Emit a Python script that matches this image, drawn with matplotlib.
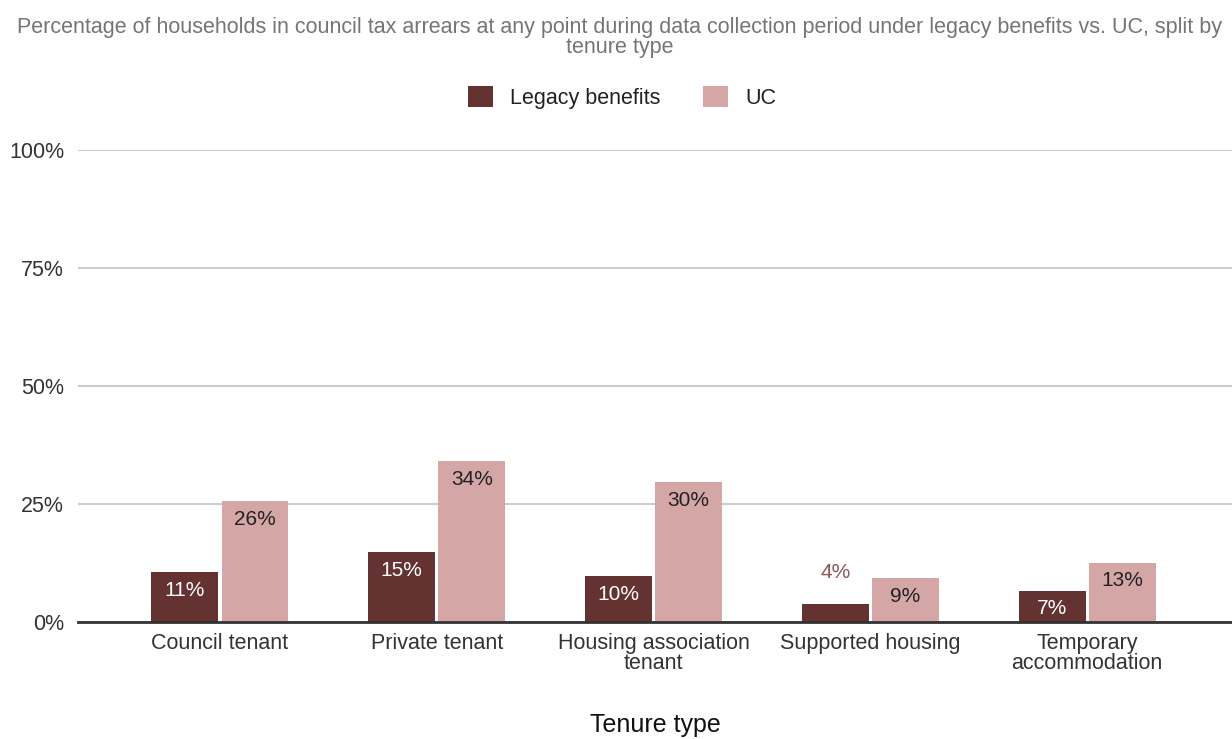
import matplotlib.pyplot as plt
import matplotlib as mpl
import numpy as np


CATEGORIES = ["Council tenant", "Private tenant", "Housing association\ntenant",
              "Supported housing", "Temporary\naccommodation"]
LEGACY = [10.6, 14.8, 9.7, 3.8, 6.6]
UC = [25.6, 34.1, 29.6, 9.3, 12.6]
Y_TICKS = [0, 25, 50, 75, 100]

TITLE = ("Percentage of households in council tax arrears at any point during data "
         "collection period under legacy benefits vs. UC, split by\ntenure type")

LEGACY_COLOR = "#653232"
UC_COLOR = "#d5a6a6"


def add_labels(ax, bars, values, inside_color, outside_color):
    for bar, value in zip(bars, values):
        x = bar.get_x() + bar.get_width() / 2
        top = bar.get_height()
        if value < 6:
            offset, color = 23, outside_color
        else:
            offset, color = -13, inside_color
        ax.annotate(f"{value:.0f}%", (x, top), xytext=(0, offset),
                    textcoords="offset points", ha="center", va="center",
                    fontsize=15, color=color)


def main():
    mpl.rcParams['font.family'] = ['Liberation Sans', 'DejaVu Sans']

    fig = plt.figure(figsize=(12.32, 7.39), dpi=100)
    ax = fig.add_axes([0.0633, 0.1583, 0.9367, 0.6387])

    x = np.arange(len(CATEGORIES))
    width = 0.309
    gap = 0.007
    legacy_bars = ax.bar(x - width / 2 - gap, LEGACY, width, color=LEGACY_COLOR,
                         label="Legacy benefits", zorder=3)
    uc_bars = ax.bar(x + width / 2 + gap, UC, width, color=UC_COLOR,
                     label="UC", zorder=3)

    add_labels(ax, legacy_bars, LEGACY, "white", "#8a5858")
    add_labels(ax, uc_bars, UC, "#222222", "#222222")

    ax.set_xlim(-0.655, 4.668)
    ax.set_ylim(0, 100)
    ax.set_yticks(Y_TICKS)
    ax.set_yticklabels([f"{t}%" for t in Y_TICKS])
    ax.set_xticks(x)
    ax.set_xticklabels(CATEGORIES, linespacing=0.95)
    ax.tick_params(axis="both", length=0, labelsize=15.5, colors="#333333")
    ax.tick_params(axis="x", pad=8)
    ax.tick_params(axis="y", pad=10)

    ax.grid(axis="y", color="#cccccc", linewidth=1.5, zorder=0)
    for side in ["top", "right", "left"]:
        ax.spines[side].set_visible(False)
    ax.spines["bottom"].set_color("#333333")
    ax.spines["bottom"].set_linewidth(2)
    ax.spines["bottom"].set_zorder(4)

    ax.set_xlabel("Tenure type", fontsize=18, color="#111111", labelpad=28)

    fig.text(0.503, 0.949, TITLE, ha="center", va="center", fontsize=15.5,
             color="#757575", linespacing=0.92)

    fig.legend(handles=[legacy_bars, uc_bars], labels=["Legacy benefits", "UC"],
               loc="center", bbox_to_anchor=(0.505, 0.868), ncol=2, frameon=False,
               fontsize=15.5, handlelength=1.15, handleheight=1.15,
               columnspacing=2.0, handletextpad=0.8, labelcolor="#222222")

    plt.savefig("out.png", dpi=100)


if __name__ == "__main__":
    main()
